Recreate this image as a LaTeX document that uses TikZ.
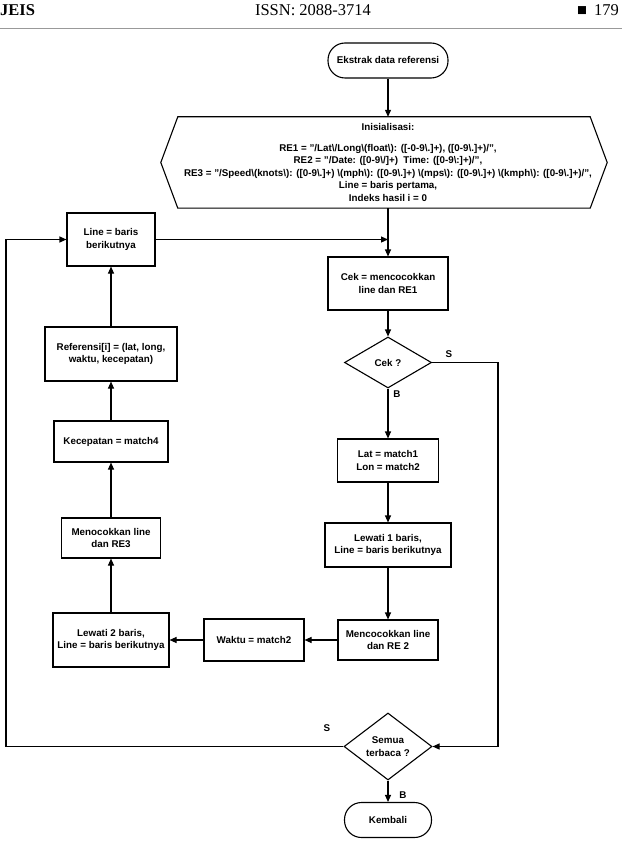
\documentclass[tikz,border=0pt]{standalone}
\usepackage{fontspec}
\setmainfont{Liberation Sans}
\newfontfamily\headfont{Liberation Serif}
\usetikzlibrary{positioning, arrows.meta, shapes.geometric}
\newcommand{\bsl}{\textbackslash}
\tikzset{
  flow/.style={font=\bfseries\fontsize{9.8}{12.5}\selectfont, align=center},
  proc/.style={draw, flow, line width=1.1pt, inner sep=2pt},
  cond/.style={draw, diamond, flow, line width=1.1pt, inner sep=1pt},
  term/.style={draw, flow, line width=1.1pt, rounded corners=17pt, minimum height=35pt},
  arr/.style={-{Triangle[length=7pt,width=6pt]}, line width=1.1pt},
  yn/.style={font=\bfseries\fontsize{9.8}{12}\selectfont},
  head/.style={font=\headfont\fontsize{16.5}{19}\selectfont, inner sep=0pt}
}

\begin{document}
\begin{tikzpicture}[x=1pt, y=-1pt]
    \useasboundingbox (0,0) rectangle (622,842);
    % page header
    \node (jrnl) [head, anchor=base west] at (0,16) {\bfseries JEIS};
    \node (issn) [head, anchor=base] at (313,16) {ISSN: 2088-3714};
    \node (page) [head, anchor=base west] at (577,16) {■\hspace{7pt}179};
    \draw [gray!80, line width=1pt] (0,29) -- (622,29);

    % main column
    \node (start) [term, minimum width=120pt] at (388,60.5) {Ekstrak data referensi};
    \node (init) [flow, minimum width=446pt, minimum height=91pt] at (388,162.5) {Inisialisasi:\\[8pt]
      RE1 = "/Lat\bsl/Long\bsl(float\bsl): ([-0-9\bsl.]+), ([0-9\bsl.]+)/",\\
      RE2 = "/Date: ([0-9\bsl/]+)\ \ Time: ([0-9\bsl:]+)/",\\
      RE3 = "/Speed\bsl(knots\bsl): ([0-9\bsl.]+) \bsl(mph\bsl): ([0-9\bsl.]+) \bsl(mps\bsl): ([0-9\bsl.]+) \bsl(kmph\bsl): ([0-9\bsl.]+)/",\\
      Line = baris pertama,\\
      Indeks hasil i = 0};
    \draw [line width=1.1pt] ([xshift=13pt]init.north west) -- ([xshift=-21pt]init.north east) -- ([xshift=-4pt]init.east)
      -- ([xshift=-21pt]init.south east) -- ([xshift=13pt]init.south west) -- ([xshift=-4pt]init.west) -- cycle;
    \node (cek) [proc, minimum width=120pt, minimum height=53pt] at (388,283.5) {Cek = mencocokkan\\line dan RE1};
    \node (cekq) [cond, minimum width=87pt, minimum height=51pt] at (388,362.5) {Cek ?};
    \node (lat) [proc, minimum width=101pt, minimum height=43pt] at (388,460.5) {Lat = match1\\Lon = match2};
    \node (skip1) [proc, minimum width=126pt, minimum height=44pt] at (388,545) {Lewati 1 baris,\\Line = baris berikutnya};
    \node (re2) [proc, minimum width=100pt, minimum height=40pt] at (388,640) {Mencocokkan line\\dan RE 2};
    \node (waktu) [proc, minimum width=100pt, minimum height=42pt] at (254,640) {Waktu = match2};
    \node (semua) [cond, minimum width=88pt, minimum height=61pt] at (388,746.5) {Semua\\terbaca ?};
    \node (kembali) [term, minimum width=87pt] at (388,820) {Kembali};

    % left column
    \node (skip2) [proc, minimum width=116pt, minimum height=54pt] at (111,640) {Lewati 2 baris,\\Line = baris berikutnya};
    \node (re3) [proc, minimum width=99pt, minimum height=40pt] at (111,538) {Menocokkan line\\dan RE3};
    \node (speed) [proc, minimum width=114pt, minimum height=41pt] at (111,441.5) {Kecepatan = match4};
    \node (ref) [proc, minimum width=132pt, minimum height=54pt] at (111,354) {Referensi[i] = (lat, long,\\waktu, kecepatan)};
    \node (nextline) [proc, minimum width=88pt, minimum height=53pt] at (111,239.5) {Line = baris\\berikutnya};

    \coordinate (sright) at (498,0);
    \coordinate (sleft) at (6,0);

    \draw [arr] (start.south) -- (start.south |- init.north);
    \draw [arr] (init.south -| cek.north) -- (cek.north);
    \draw [arr] (nextline.east) -- (nextline.east -| cek.north);
    \draw [arr] (cek.south) -- (cekq.north);
    \draw [arr] (cekq.south) -- (lat.north);
    \draw [arr] (cekq.east) -- (cekq.east -| sright) -- (semua.east -| sright) -- (semua.east);
    \draw [arr] (lat.south) -- (skip1.north);
    \draw [arr] (skip1.south) -- (re2.north);
    \draw [arr] (re2.west) -- (waktu.east);
    \draw [arr] (waktu.west) -- (skip2.east);
    \draw [arr] (skip2.north) -- (re3.south);
    \draw [arr] (re3.north) -- (speed.south);
    \draw [arr] (speed.north) -- (ref.south);
    \draw [arr] (ref.north) -- (nextline.south);
    \draw [arr] (semua.west) -- (semua.west -| sleft) -- (nextline.west -| sleft) -- (nextline.west);
    \draw [arr] (semua.south) -- (kembali.north);

    % branch labels
    \node (cekS) [yn] at (449,354) {S};
    \node (cekB) [yn] at (397,394) {B};
    \node (semuaS) [yn] at (327,728) {S};
    \node (semuaB) [yn] at (403,795) {B};
\end{tikzpicture}
\end{document}
